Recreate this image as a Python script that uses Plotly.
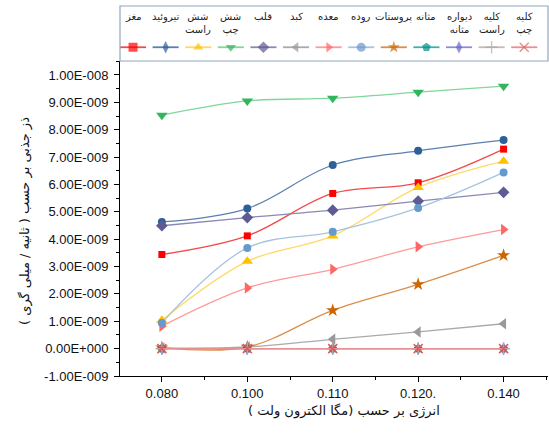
import plotly.graph_objects as go

# ---------------- data ----------------
energy_labels = ["0.080", "0.100", "0.110", "0.120.", "0.140"]
series_names = ["مغز", "تیروئید", "شش راست", "شش چپ", "قلب", "کبد", "معده",
                "روده", "پروستات", "مثانه", "دیواره مثانه", "کلیه راست", "کلیه چپ"]
legend_labels = ["مغز", "تیروئید", "شش<br>راست", "شش<br>چپ", "قلب", "کبد", "معده",
                 "روده", "پروستات", "مثانه", "دیواره<br>مثانه", "کلیه<br>راست", "کلیه<br>چپ"]

brain        = [3.44e-9, 4.12e-9, 5.67e-9, 6.06e-9, 7.29e-9]
thyroid      = [4.63e-9, 5.12e-9, 6.71e-9, 7.23e-9, 7.62e-9]
lung_right   = [1.04e-9, 3.19e-9, 4.12e-9, 5.89e-9, 6.85e-9]
lung_left    = [8.53e-9, 9.05e-9, 9.15e-9, 9.37e-9, 9.59e-9]
heart        = [4.49e-9, 4.79e-9, 5.06e-9, 5.39e-9, 5.71e-9]
liver        = [0.02e-9, 0.06e-9, 0.34e-9, 0.61e-9, 0.91e-9]
stomach      = [0.82e-9, 2.22e-9, 2.90e-9, 3.72e-9, 4.35e-9]
intestine    = [0.94e-9, 3.68e-9, 4.27e-9, 5.14e-9, 6.44e-9]
prostate     = [0.04e-9, 0.06e-9, 1.40e-9, 2.35e-9, 3.41e-9]
bladder      = [0.0, 0.0, 0.0, 0.0, 0.0]
bladder_wall = [0.0, 0.0, 0.0, 0.0, 0.0]
kidney_right = [0.0, 0.0, 0.0, 0.0, 0.0]
kidney_left  = [0.0, 0.0, 0.0, 0.0, 0.0]

series_values = [brain, thyroid, lung_right, lung_left, heart, liver, stomach,
                 intestine, prostate, bladder, bladder_wall, kidney_right, kidney_left]

y_ticks = [-1e-9, 0.0, 1e-9, 2e-9, 3e-9, 4e-9, 5e-9, 6e-9, 7e-9, 8e-9, 9e-9, 1e-8]

# ---------------- styles ----------------
marker_colors = ["#FF0000", "#2F5F97", "#FFC000", "#33B560", "#5E5A94", "#999999", "#FF6666",
                 "#6699CC", "#CC6600", "#00908A", "#6A66C8", "#B4A4A4", "#E05A5A"]
line_colors = ["#F24A4A", "#5A7FB0", "#FFD966", "#7FD79A", "#8A88B4", "#AAAAAA", "#FF9A9A",
               "#A6C3E2", "#DB8E48", "#3FB0A8", "#8E8CD8", "#C8B8B8", "#E89090"]
symbols = ["square", "circle", "triangle-up", "triangle-down", "diamond", "triangle-left",
           "triangle-right", "circle", "star", "pentagon", "diamond-tall", "cross-thin", "x-thin"]
legend_symbols = ["square", "diamond-tall", "triangle-up", "triangle-down", "diamond", "triangle-left",
                  "triangle-right", "circle", "star", "pentagon", "diamond-tall", "cross-thin", "x-thin"]
sizes = [7, 8, 10, 10, 9, 10, 10, 8, 10, 9, 9, 9, 9]

def sci(v):
    s = f"{v:.2E}"
    mant, exp = s.split("E")
    sign = exp[0]
    return f"{mant}E{sign}{int(exp[1:]):03d}"

W, H = 549, 434
fig = go.Figure()

xs = list(range(len(energy_labels)))
for i, name in enumerate(series_names):
    open_sym = symbols[i] in ("cross-thin", "x-thin")
    fig.add_trace(go.Scatter(
        x=xs, y=series_values[i], name=name, mode="lines+markers",
        line=dict(color=line_colors[i], width=1.3, shape="spline", smoothing=1),
        marker=dict(symbol=symbols[i], size=sizes[i], color=marker_colors[i],
                    line=dict(color=marker_colors[i], width=1.5 if open_sym else 0)),
        showlegend=False, xaxis="x", yaxis="y"))

# custom legend (text above symbol) drawn on its own axes
for i, name in enumerate(series_names):
    open_sym = legend_symbols[i] in ("cross-thin", "x-thin")
    fig.add_trace(go.Scatter(
        x=[i - 0.4, i, i + 0.4], y=[0.25, 0.25, 0.25], mode="lines+markers",
        line=dict(color=line_colors[i], width=1.8),
        marker=dict(symbol=legend_symbols[i], size=[0, 9, 0], color=marker_colors[i],
                    line=dict(color=marker_colors[i], width=1.3 if open_sym else 0)),
        showlegend=False, hoverinfo="skip", xaxis="x2", yaxis="y2"))
    fig.add_annotation(x=i, y=0.94, xref="x2", yref="y2", text=legend_labels[i],
                       showarrow=False, yanchor="top", xanchor="center",
                       font=dict(family="DejaVu Sans", size=10, color="#222222"))

left_px, right_px = 120, 548
plot_h = 376  # paper height (t=0, b=58)
fig.add_shape(type="rect", xref="x2 domain", yref="y2 domain", x0=0, x1=1, y0=0, y1=1,
              line=dict(color="#8FA6BF", width=1.2), fillcolor="rgba(0,0,0,0)")

fig.update_layout(
    width=W, height=H, margin=dict(l=0, r=1, t=0, b=58),
    paper_bgcolor="white", plot_bgcolor="white",
    font=dict(family="Liberation Sans, Arial", size=12, color="#111111"),
    xaxis=dict(domain=[left_px / right_px, 1], range=[-0.49, 4.52],
               tickmode="array", tickvals=xs, ticktext=energy_labels,
               ticks="outside", ticklen=5, tickwidth=1, tickcolor="black",
               minor=dict(dtick=0.5, tick0=0.5, ticks="outside", ticklen=3, tickcolor="black"),
               showline=True, linecolor="black", linewidth=1, showgrid=False, zeroline=False,
               tickfont=dict(size=13, family="Liberation Sans, Arial", color="#111111"),
               anchor="y"),
    yaxis=dict(domain=[0, 315 / plot_h], range=[-1e-9, 1.051e-8],
               tickmode="array", tickvals=y_ticks, ticktext=[sci(v) for v in y_ticks],
               ticks="outside", ticklen=5, tickwidth=1, tickcolor="black",
               minor=dict(dtick=5e-10, tick0=-1e-9, ticks="outside", ticklen=3, tickcolor="black"),
               showline=True, linecolor="black", linewidth=1, showgrid=False, zeroline=False,
               tickfont=dict(size=13, family="Liberation Sans, Arial", color="#111111"),
               ticklabelstandoff=3, anchor="x"),
    xaxis2=dict(domain=[left_px / right_px, 1], range=[-0.4, 12.73], visible=False,
                fixedrange=True, anchor="y2"),
    yaxis2=dict(domain=[(376 - 61) / plot_h, (376 - 6) / plot_h], range=[0, 1], visible=False,
                fixedrange=True, anchor="x2"),
)

fig.add_annotation(x=344 / right_px, y=(376 - 421) / plot_h, xref="paper", yref="paper",
                   text="انرژی بر حسب (مگا الکترون ولت )", showarrow=False,
                   font=dict(family="DejaVu Sans", size=13, color="#111111"))
fig.add_annotation(x=15 / right_px, y=(376 - 221) / plot_h, xref="paper", yref="paper",
                   text="ذز جذبی بر حسب ( ثانیه / میلی گری )", showarrow=False, textangle=-90,
                   font=dict(family="DejaVu Sans", size=13, color="#111111"))

fig.write_html("out.html")
